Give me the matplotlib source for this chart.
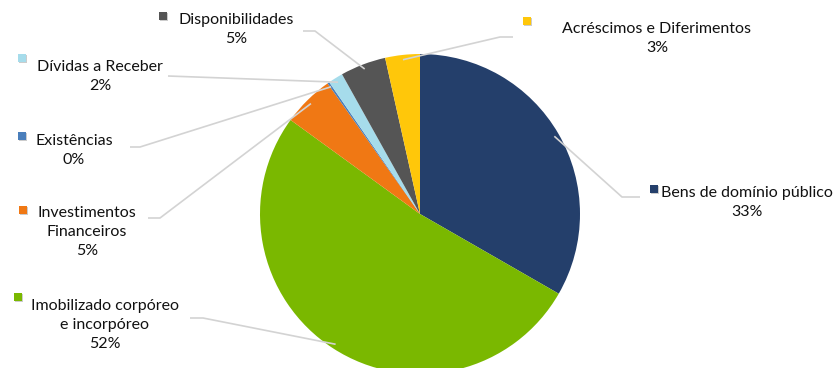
import numpy as np
import matplotlib.pyplot as plt

# ── Data ────────────────────────────────────────────────────────────────────
labels = [
    "Bens de domínio público",
    "Imobilizado corpóreo\ne incorpóreo",
    "Investimentos\nFinanceiros",
    "Existências",
    "Dívidas a Receber",
    "Disponibilidades",
    "Acréscimos e Diferimentos",
]
shares = [33.3, 51.7, 5.2, 0.2, 1.5, 4.6, 3.5]
pct_text = ["33%", "52%", "5%", "0%", "2%", "5%", "3%"]
colors = ["#243F6B", "#7AB800", "#F07814", "#4A7EBB", "#A6DCEB", "#555555", "#FFC70A"]

# label layout in pixel coords (x, y from top): text top-centre, marker, leader knee
text_pos = [(747, 186), (105, 299), (87, 206), (74, 134), (100, 60), (236, 13), (657, 22)]
marker_pos = [(654, 189), (18, 297), (23, 210), (22, 136), (22, 58), (163, 16), (527, 21)]
knee = [((640, 197), (622, 197)), ((190, 318), (203, 318)), ((148, 218), (160, 218)),
        ((130, 147), (140, 147)), ((168, 76), (168, 76)), ((303, 31), (315, 31)),
        ((513, 37), (500, 37))]

W, H = 840, 368
CX, CY, R = 420, H - 214, 160

plt.rcParams["font.family"] = ["Lato", "DejaVu Sans"]

fig = plt.figure(figsize=(W / 100, H / 100), dpi=100)
ax = fig.add_axes([0, 0, 1, 1])

wedges, _ = ax.pie(shares, colors=colors, startangle=90, counterclock=False,
                   center=(CX, CY), radius=R, frame=True,
                   wedgeprops=dict(linewidth=0))
ax.set_xlim(0, W)
ax.set_ylim(0, H)
ax.set_aspect("equal")
ax.axis("off")

line_c = "#D3D3D3"
for i, w in enumerate(wedges):
    mid = np.deg2rad((w.theta1 + w.theta2) / 2)
    ex = CX + R * 0.97 * np.cos(mid)
    ey = CY + R * 0.97 * np.sin(mid)
    (k1x, k1y), (k2x, k2y) = knee[i]
    ax.plot([k1x, k2x, ex], [H - k1y, H - k2y, ey], color=line_c, lw=1.2,
            zorder=1, solid_capstyle="butt")
    tx, ty = text_pos[i]
    ax.text(tx, H - ty, f"{labels[i]}\n{pct_text[i]}", ha="center", va="top",
            fontsize=11.5, color="#111111", linespacing=1.45, zorder=5)
    mx, my = marker_pos[i]
    ax.plot([mx + 1], [H - my - 1], marker="s", ms=6, color="#CCCCCC", mew=0, zorder=4)
    ax.plot([mx], [H - my], marker="s", ms=6, color=colors[i], mew=0, zorder=5)

fig.savefig("out.png", dpi=100)
